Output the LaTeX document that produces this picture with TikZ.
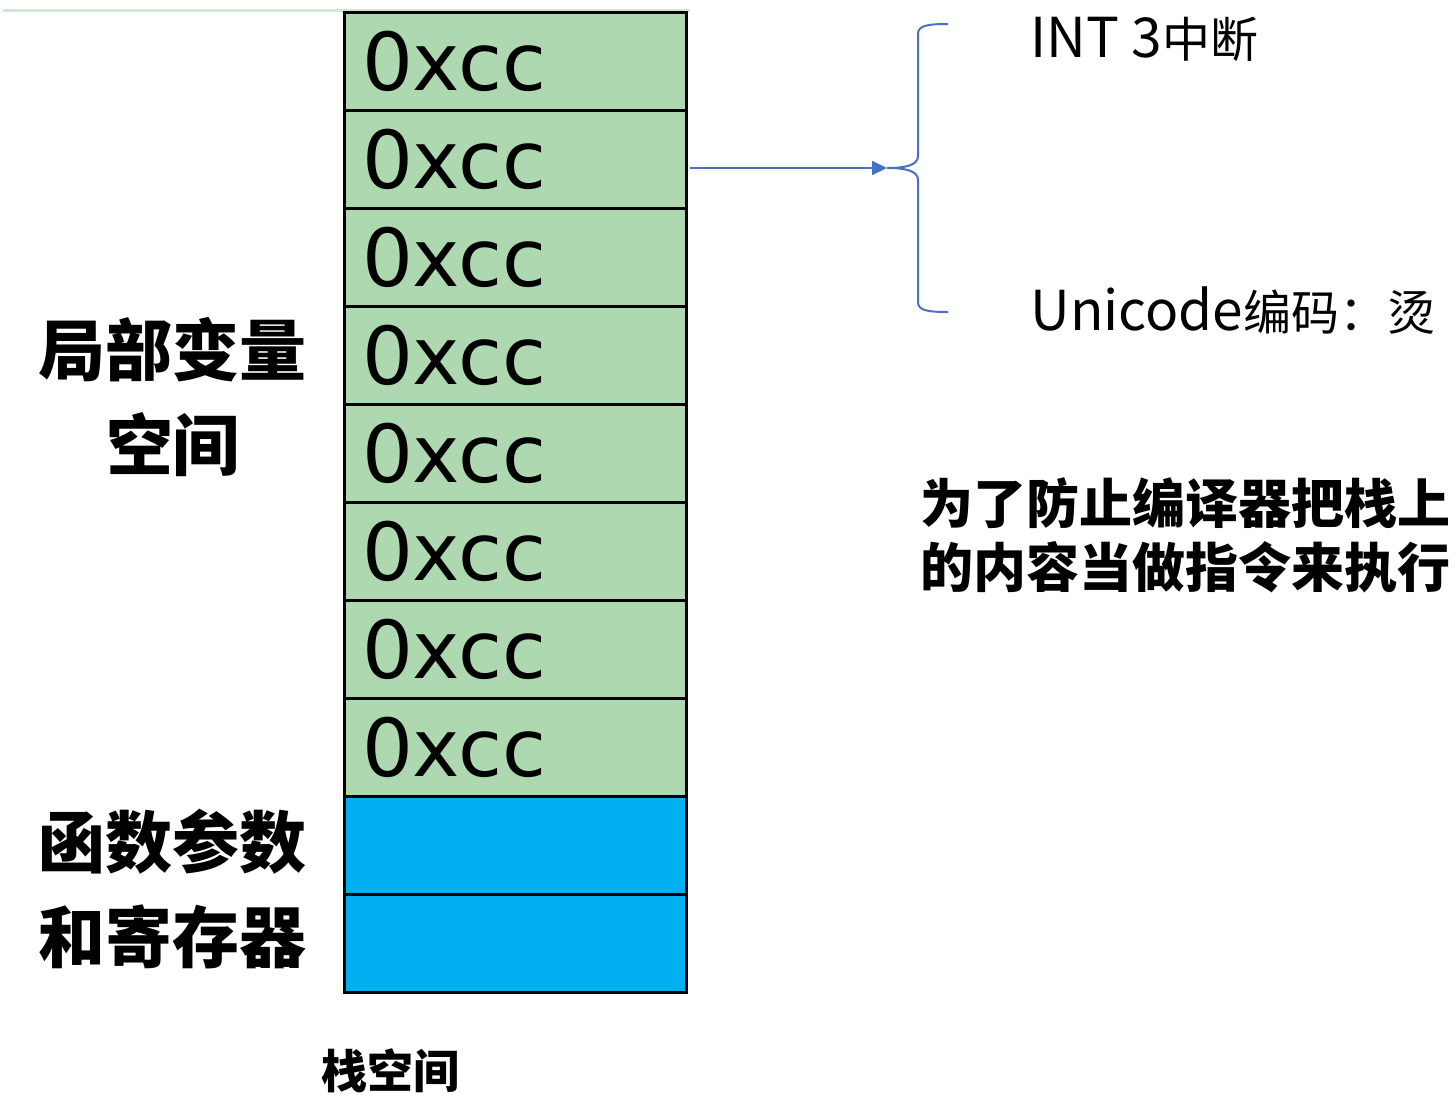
\documentclass[tikz,border=0pt]{standalone}
\usepackage{fontspec}
\usetikzlibrary{arrows.meta}
\newfontfamily\cjk{Noto Sans CJK SC}
\newfontfamily\dejavu{DejaVu Sans}
\definecolor{cellgreen}{RGB}{174,217,176}
\definecolor{linegreen}{RGB}{208,233,208}
\definecolor{cellblue}{RGB}{0,176,240}
\definecolor{bracecol}{RGB}{68,114,196}
\newcommand{\smallcjk}[1]{{\fontsize{24}{24}\selectfont #1}}
\tikzset{
  cellbox/.style={draw=black, line width=1.5pt, minimum width=171pt, minimum height=49pt,
    inner sep=0pt, outer sep=0pt, inner xsep=9pt, text width=153pt, align=left,
    font=\dejavu\fontsize{40}{40}\selectfont},
  greencell/.style={cellbox, fill=cellgreen},
  bluecell/.style={cellbox, fill=cellblue},
  sidelabel/.style={inner sep=0pt, align=center, font=\cjk\bfseries\fontsize{33.5}{47.5}\selectfont},
  notetext/.style={inner sep=0pt, font=\cjk\fontsize{27.5}{27.5}\selectfont},
  bluearrow/.style={draw=bracecol, line width=1pt, -{Triangle[length=7.5pt,width=7pt]}},
  bracestyle/.style={draw=bracecol, line width=1pt}
}
\begin{document}
\begin{tikzpicture}[x=0.5pt, y=-0.5pt]
\clip (0,0) rectangle (1456,1098);
\fill[white] (0,0) rectangle (1456,1098);
% top light line
\coordinate (tl) at (3,10);
\coordinate (tr) at (690,10);
\draw[linegreen, line width=1.5pt] (tl) -- (tr);
% stack cells
\foreach \i in {1,...,8} {
  \node[greencell] (c\i) at (515, {12+98*(\i-1)+49}) {0xcc};
}
\node[bluecell] (c9) at (515, {12+98*8+49}) {};
\node[bluecell] (c10) at (515, {12+98*9+49}) {};
% arrow and brace
\coordinate (src) at (690,168);
\coordinate (tip) at (887,168);
\draw[bluearrow] (src) -- (tip);
\coordinate (btop) at (948,24);
\coordinate (bbot) at (948,312);
\draw[bracestyle] (btop) .. controls (926,24) and (918,26) .. (918,34)
  -- (918,156) .. controls (918,165) and (906,168) .. (tip)
  .. controls (906,168) and (918,171) .. (918,180)
  -- (918,302) .. controls (918,310) and (926,312) .. (bbot);
% labels
\node[notetext, anchor=base west] (int) at (1030,57) {INT 3\smallcjk{中断}};
\node[notetext, anchor=base west] (uni) at (1030,330) {Unicode\smallcjk{编码：烫}};
\node[inner sep=0pt, anchor=west, align=left, font=\cjk\bfseries\fontsize{26.5}{32}\selectfont] (note) at (920,535)
  {为了防止编译器把栈上\\的内容当做指令来执行};
\node[sidelabel] (local) at (173,397) {局部变量\\空间};
\node[sidelabel] (args) at (173,889) {函数参数\\和寄存器};
\node[inner sep=0pt, font=\cjk\bfseries\fontsize{23}{23}\selectfont] (stack) at (390,1071) {栈空间};
\end{tikzpicture}
\end{document}
